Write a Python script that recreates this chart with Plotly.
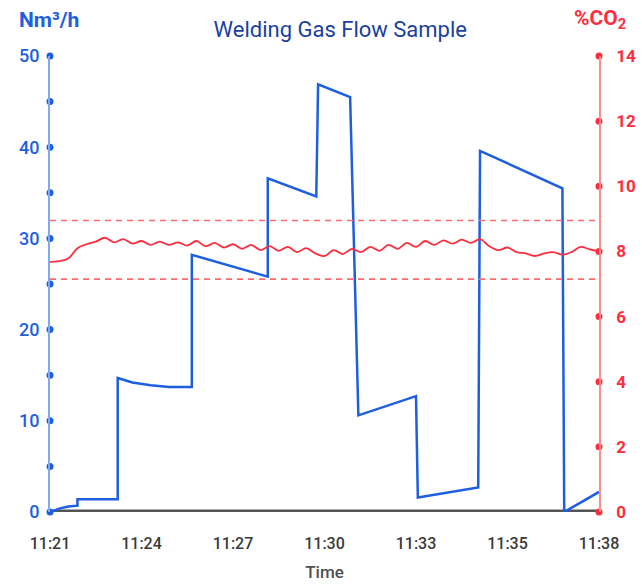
import plotly.graph_objects as go

# ---- data ----
x_tick_pos = [0, 1, 2, 3, 4, 5, 6]
x_tick_labels = ["11:21", "11:24", "11:27", "11:30", "11:33", "11:35", "11:38"]

flow_x = [0, 0.11, 0.2, 0.3, 0.3, 0.74, 0.74, 0.9, 1.1, 1.3, 1.55, 1.55, 2.38, 2.38,
          2.91, 2.93, 3.28, 3.37, 4.0, 4.02, 4.68, 4.70, 5.6, 5.62, 6.0]
flow_y = [0, 0.4, 0.6, 0.7, 1.4, 1.4, 14.7, 14.2, 13.9, 13.7, 13.7, 28.2, 25.8, 36.6,
          34.6, 46.9, 45.5, 10.6, 12.7, 1.6, 2.7, 39.6, 35.5, 0, 2.2]

co2_x = [round(i * 0.1, 1) for i in range(61)]
co2_y = [7.68, 7.70, 7.78, 8.10, 8.22, 8.30, 8.42, 8.28, 8.38, 8.24,
         8.32, 8.20, 8.30, 8.20, 8.28, 8.18, 8.32, 8.16, 8.26, 8.12,
         8.22, 8.08, 8.20, 8.04, 8.16, 8.02, 8.14, 7.98, 8.10, 7.94,
         7.86, 8.04, 7.92, 8.08, 7.98, 8.14, 8.02, 8.20, 8.08, 8.26,
         8.14, 8.32, 8.20, 8.34, 8.24, 8.36, 8.26, 8.38, 8.16, 8.04,
         8.12, 7.98, 7.94, 7.86, 7.94, 7.98, 7.90, 7.98, 8.14, 8.06,
         8.00]

co2_upper = 8.95
co2_lower = 7.15

left_ticks = [0, 10, 20, 30, 40, 50]
left_dots = [0, 5, 10, 15, 20, 25, 30, 35, 40, 45, 50]
right_ticks = [0, 2, 4, 6, 8, 10, 12, 14]

BLUE = "#1d5fe0"
BLUE_LIGHT = "#7fa9f2"
RED = "#ff2d3d"
RED_LIGHT = "#ff8a8a"
FONT = "Roboto"

fig = go.Figure()

# limit lines
fig.add_trace(go.Scatter(x=[0, 6], y=[co2_upper, co2_upper], yaxis="y2", mode="lines",
                         line=dict(color="#ff6b6b", width=1.6, dash="6px,5px"), hoverinfo="skip"))
fig.add_trace(go.Scatter(x=[0, 6], y=[co2_lower, co2_lower], yaxis="y2", mode="lines",
                         line=dict(color="#ff6b6b", width=1.6, dash="6px,5px"), hoverinfo="skip"))

# CO2 line
fig.add_trace(go.Scatter(x=co2_x, y=co2_y, yaxis="y2", mode="lines",
                         line=dict(color=RED, width=1.8, shape="spline", smoothing=1.0)))

# zero baseline (thick gray)
fig.add_trace(go.Scatter(x=[0, 6], y=[0, 0], mode="lines",
                         line=dict(color="#555555", width=5), hoverinfo="skip"))

# flow line
fig.add_trace(go.Scatter(x=flow_x, y=flow_y, mode="lines",
                         line=dict(color=BLUE, width=2.5)))

# axis dots
fig.add_trace(go.Scatter(x=[0] * len(left_dots), y=left_dots, mode="markers",
                         marker=dict(color=BLUE, size=7), cliponaxis=False, hoverinfo="skip"))
fig.add_trace(go.Scatter(x=[6] * len(right_ticks), y=right_ticks, yaxis="y2", mode="markers",
                         marker=dict(color=RED, size=7), cliponaxis=False, hoverinfo="skip"))

fig.update_layout(
    width=642, height=585,
    margin=dict(l=50, r=43, t=56, b=73, autoexpand=False),
    paper_bgcolor="white", plot_bgcolor="white",
    showlegend=False,
    font=dict(family=FONT),
    title=dict(text="Welding Gas Flow Sample", x=0.53, xanchor="center", y=0.95, yanchor="middle",
               font=dict(family=FONT, size=22, color="#1a3fa0")),
    xaxis=dict(range=[0, 6], tickmode="array", tickvals=x_tick_pos, ticktext=x_tick_labels,
               showgrid=False, zeroline=False, showline=False, ticks="", automargin=False,
               tickfont=dict(family=FONT, size=16, color="#3a3a3a", weight=500), ticklabelstandoff=20,
               title=dict(text="Time", font=dict(family=FONT, size=17, color="#505050", weight=500), standoff=14)),
    yaxis=dict(range=[0, 50], tickmode="array", tickvals=left_ticks, automargin=False,
               showgrid=False, zeroline=False, showline=True, linecolor=BLUE_LIGHT, linewidth=2,
               ticks="", tickfont=dict(family=FONT, size=18, color=BLUE, weight=500), ticklabelstandoff=5),
    yaxis2=dict(range=[0, 14], tickmode="array", tickvals=right_ticks, overlaying="y", side="right",
                showgrid=False, zeroline=False, showline=True, linecolor=RED_LIGHT, linewidth=1.5, automargin=False,
                ticks="", tickfont=dict(family=FONT, size=17, color=RED, weight="bold"), ticklabelstandoff=12),
)

fig.add_annotation(text="<b>Nm³/h</b>", xref="paper", yref="paper", x=-0.06, y=1.08,
                   xanchor="left", yanchor="middle", showarrow=False,
                   font=dict(family=FONT, size=21, color=BLUE))
fig.add_annotation(text="<b>%CO<sub>2</sub></b>", xref="paper", yref="paper", x=1.053, y=1.08,
                   xanchor="right", yanchor="middle", showarrow=False,
                   font=dict(family=FONT, size=21, color=RED))

fig.write_html("out.html", config={"displayModeBar": False},
               post_script="document.body.style.margin='0';")
